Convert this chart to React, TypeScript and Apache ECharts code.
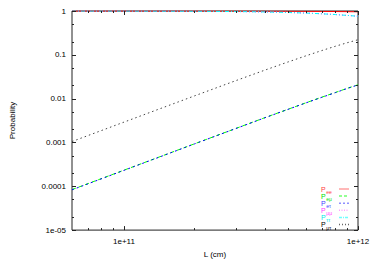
import React, { useEffect, useRef } from "react";
import * as echarts from "echarts";

// Baseline L values (cm)
const L = [6e10, 1e11, 2e11, 3e11, 4e11, 5e11, 6e11, 7e11, 8e11, 9e11, 1e12];

// Probabilities
const pEE = [0.99983, 0.99953, 0.99814, 0.99584, 0.99264, 0.98866, 0.98388, 0.9784, 0.9724, 0.9656, 0.9586];
const pEMu = [8.4e-5, 2.33e-4, 9.29e-4, 2.08e-3, 3.68e-3, 5.67e-3, 8.06e-3, 0.0108, 0.0138, 0.0172, 0.0207];
const pETau = [8.3e-5, 2.31e-4, 9.25e-4, 2.07e-3, 3.66e-3, 5.64e-3, 8.02e-3, 0.0107, 0.0137, 0.0171, 0.0206];
const pMuMu = [0.99887, 0.99686, 0.98753, 0.97228, 0.95162, 0.92623, 0.89684, 0.8642, 0.8296, 0.7939, 0.7584];
const pTauTau = [0.99886, 0.99684, 0.98746, 0.97214, 0.9514, 0.9259, 0.8964, 0.8636, 0.829, 0.793, 0.7575];
const pMuTau = [0.00105, 0.00291, 0.01154, 0.02564, 0.0447, 0.0681, 0.0951, 0.125, 0.1566, 0.1889, 0.2209];

const seriesNames = ["Pee", "Peμ", "Peτ", "Pμμ", "Pττ", "Pμτ"];
const seriesSubs = ["ee", "eμ", "eτ", "μμ", "ττ", "μτ"];
const seriesValues = [pEE, pEMu, pETau, pMuMu, pTauTau, pMuTau];
const seriesColors = ["#ff0000", "#00ff00", "#0000ff", "#ff00ff", "#00ffff", "#444444"];
const legendTextColors = ["#ff4040", "#00e000", "#4040ff", "#ff40ff", "#00e8e8", "#000000"];
const legendLineColors = ["#ffa0a0", "#70ff70", "#9090ff", "#ffa0ff", "#70ffff", "#666666"];
const seriesDash: any[] = ["solid", [4, 3], [2, 3], [1, 2], [4, 2, 1, 2], [1.5, 3]];
const legendDash: any[] = [null, [3, 2], [2, 2], [1, 1.5], [3, 1, 1, 1], [1, 2]];

// Axes
const X_MIN = 6e10;
const X_MAX = 1e12;
const Y_MIN = 1e-5;
const Y_MAX = 1;
const xLabelValues = [1e11, 1e12];
const xLabelTexts = ["1e+11", "1e+12"];
const yLabelValues = [1e-5, 1e-4, 1e-3, 1e-2, 1e-1, 1];
const yLabelTexts = ["1e-05", "0.0001", "0.001", "0.01", "0.1", "1"];
const xMajorTicks = [1e11, 1e12];
const xMinorTicks = [7e10, 8e10, 9e10, 2e11, 3e11, 4e11, 5e11, 6e11, 7e11, 8e11, 9e11];
const yMajorTicks = [1e-5, 1e-4, 1e-3, 1e-2, 1e-1, 1];
const yMinorTicks = [2e-5, 5e-5, 2e-4, 5e-4, 2e-3, 5e-3, 2e-2, 5e-2, 0.2, 0.5];

const MAJOR_LEN = 4;
const MINOR_LEN = 2;
const AXIS_COLOR = "#222";
const FONT = "'Liberation Sans', Arial, Helvetica, sans-serif";

// legend layout
const LEG_TEXT_X = 321;
const LEG_LINE_X1 = 339;
const LEG_LINE_X2 = 349;
const LEG_TOP = 189;
const LEG_ROW = 7.1;

function lookupLabel(v: number, values: number[], texts: string[]) {
  const i = values.findIndex((t) => Math.abs(Math.log10(t) - Math.log10(v)) < 1e-6);
  return i >= 0 ? texts[i] : "";
}

export default function App() {
  const ref = useRef<HTMLDivElement>(null);
  useEffect(() => {
    if (!ref.current) return;
    const chart = echarts.init(ref.current, undefined, { renderer: "svg" });

    const lineSeries = seriesNames.map((name, i) => ({
      name,
      type: "line",
      data: L.map((l, j) => [l, seriesValues[i][j]]),
      symbol: "none",
      showSymbol: false,
      lineStyle: { color: seriesColors[i], width: 1, type: seriesDash[i] },
      itemStyle: { color: seriesColors[i] },
      z: 2,
    }));

    const legendElements: any[] = [];
    seriesNames.forEach((_, i) => {
      const y = LEG_TOP + i * LEG_ROW;
      legendElements.push({
        type: "text",
        x: LEG_TEXT_X,
        y,
        silent: true,
        style: {
          text: "P",
          fill: legendTextColors[i],
          fontSize: 7,
          lineHeight: 6,
          fontFamily: FONT,
          align: "left",
          verticalAlign: "middle",
        },
      });
      legendElements.push({
        type: "text",
        x: LEG_TEXT_X + 5.3,
        y: y + 3,
        silent: true,
        style: {
          text: seriesSubs[i],
          fill: legendTextColors[i],
          fontSize: 5,
          lineHeight: 4,
          fontFamily: FONT,
          align: "left",
          verticalAlign: "middle",
        },
      });
      const lineStyle: any = { stroke: legendLineColors[i], lineWidth: 1.5 };
      if (legendDash[i]) lineStyle.lineDash = legendDash[i];
      legendElements.push({
        type: "line",
        silent: true,
        shape: { x1: LEG_LINE_X1, y1: y, x2: LEG_LINE_X2, y2: y },
        style: lineStyle,
      });
    });

    const xTickData = [
      ...xMajorTicks.map((v) => [v, Y_MIN, MAJOR_LEN]),
      ...xMinorTicks.map((v) => [v, Y_MIN, MINOR_LEN]),
    ];
    const yTickData = [
      ...yMajorTicks.map((v) => [X_MIN, v, MAJOR_LEN]),
      ...yMinorTicks.map((v) => [X_MIN, v, MINOR_LEN]),
    ];
    const tickStyle = { stroke: AXIS_COLOR, lineWidth: 1 };

    chart.setOption({
      animation: false,
      grid: {
        left: 67,
        right: 17,
        top: 11,
        bottom: 30,
        show: true,
        borderColor: AXIS_COLOR,
        borderWidth: 1,
        backgroundColor: "transparent",
      },
      xAxis: {
        type: "log",
        logBase: 10,
        min: X_MIN,
        max: X_MAX,
        name: "L (cm)",
        nameLocation: "middle",
        nameGap: 13,
        nameTextStyle: { fontSize: 8, fontFamily: FONT, color: "#000" },
        axisLine: { show: false },
        axisTick: { show: false },
        splitLine: { show: false },
        minorTick: { show: false },
        axisLabel: {
          fontSize: 8,
          fontFamily: FONT,
          color: "#000",
          margin: 7,
          showMinLabel: false,
          formatter: (v: number) => lookupLabel(v, xLabelValues, xLabelTexts),
        },
      },
      yAxis: {
        type: "log",
        logBase: 10,
        min: Y_MIN,
        max: Y_MAX,
        name: "Probability",
        nameLocation: "middle",
        nameGap: 56,
        nameRotate: 90,
        nameTextStyle: { fontSize: 8, fontFamily: FONT, color: "#000" },
        axisLine: { show: false },
        axisTick: { show: false },
        splitLine: { show: false },
        minorTick: { show: false },
        axisLabel: {
          fontSize: 8,
          fontFamily: FONT,
          color: "#000",
          margin: 6,
          formatter: (v: number) => lookupLabel(v, yLabelValues, yLabelTexts),
        },
      },
      graphic: [{ type: "group", children: legendElements }],
      series: [
        ...lineSeries,
        {
          type: "custom",
          name: "xticks",
          silent: true,
          z: 3,
          data: xTickData,
          encode: { x: 0, y: 1 },
          renderItem: (_p: any, api: any) => {
            const x = api.value(0);
            const len = api.value(2);
            const b = api.coord([x, Y_MIN]);
            const t = api.coord([x, Y_MAX]);
            const px = Math.round(b[0]) + 0.5;
            return {
              type: "group",
              children: [
                { type: "line", shape: { x1: px, y1: b[1], x2: px, y2: b[1] - len }, style: tickStyle },
                { type: "line", shape: { x1: px, y1: t[1], x2: px, y2: t[1] + len }, style: tickStyle },
              ],
            };
          },
        },
        {
          type: "custom",
          name: "yticks",
          silent: true,
          z: 3,
          data: yTickData,
          encode: { x: 0, y: 1 },
          renderItem: (_p: any, api: any) => {
            const y = api.value(1);
            const len = api.value(2);
            const l = api.coord([X_MIN, y]);
            const r = api.coord([X_MAX, y]);
            const py = Math.round(l[1]) + 0.5;
            return {
              type: "group",
              children: [
                { type: "line", shape: { x1: l[0], y1: py, x2: l[0] + len, y2: py }, style: tickStyle },
                { type: "line", shape: { x1: r[0], y1: py, x2: r[0] - len, y2: py }, style: tickStyle },
              ],
            };
          },
        },
      ],
    });
    return () => chart.dispose();
  }, []);

  return (
    <div
      ref={ref}
      style={{ position: "fixed", left: 0, top: 0, width: 375, height: 263, background: "#fff" }}
    />
  );
}
